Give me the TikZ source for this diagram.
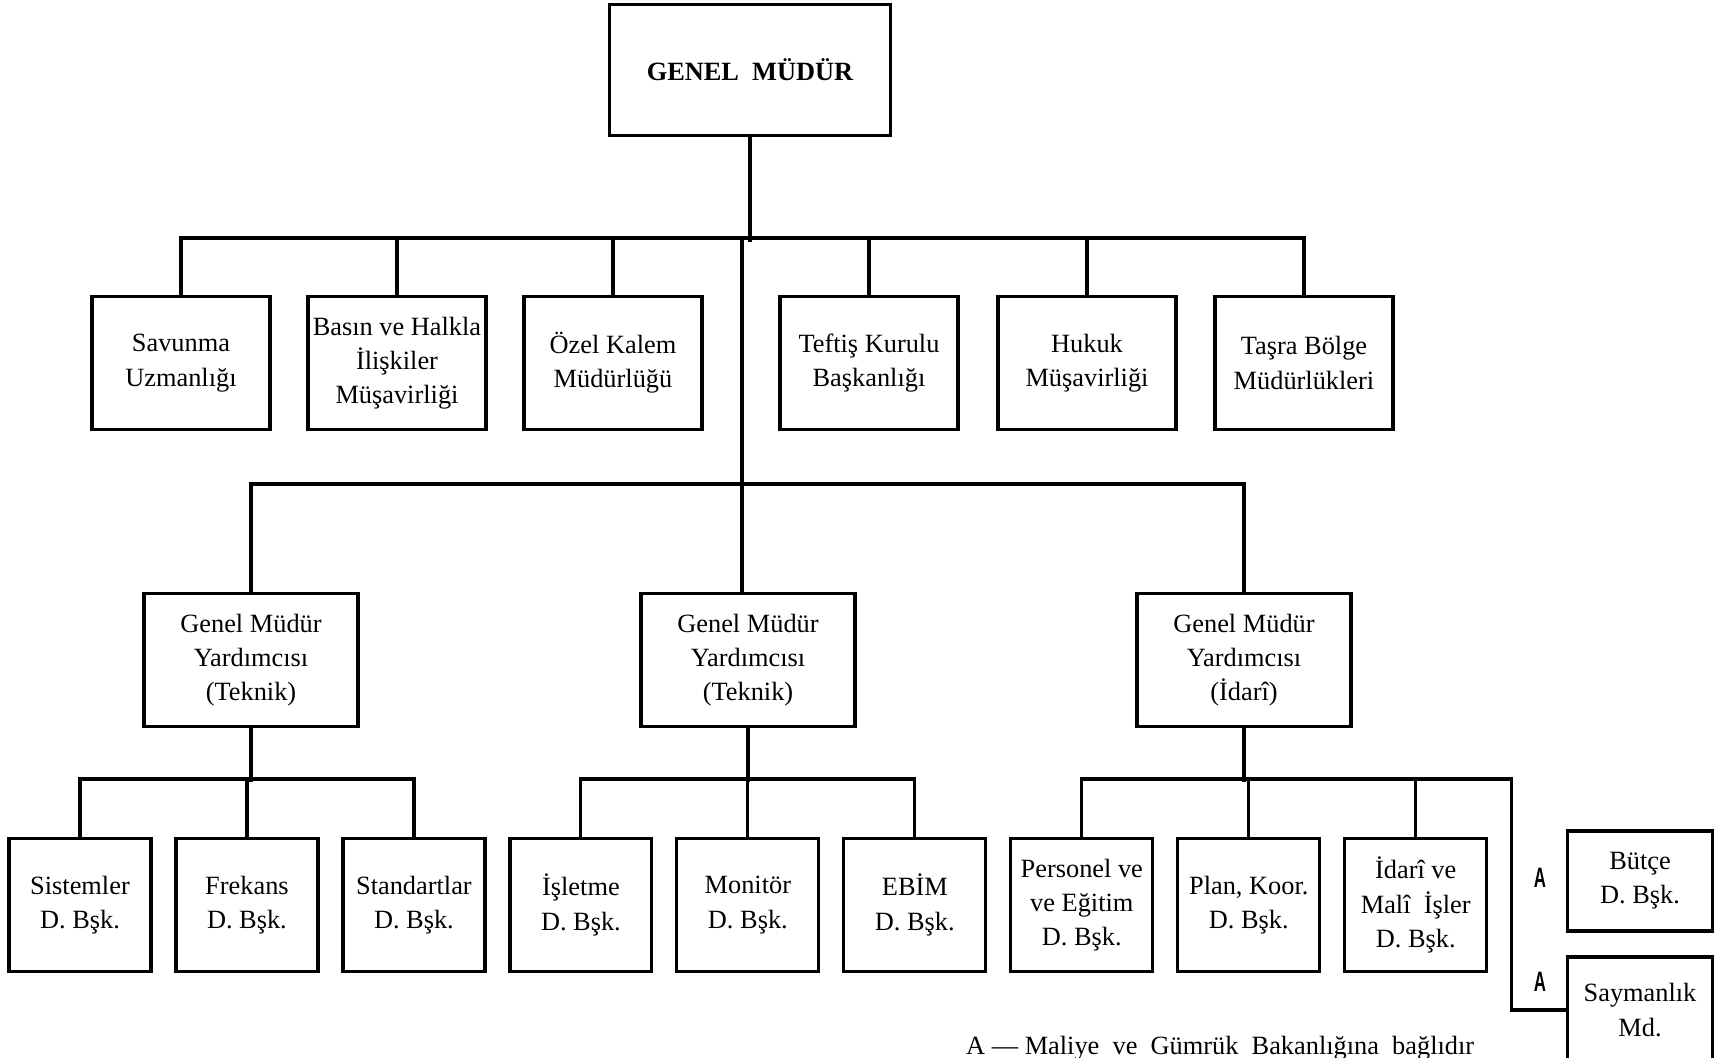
\documentclass[tikz,border=0pt]{standalone}
\usepackage{fontspec}
\setmainfont{Liberation Serif}
\setsansfont{Liberation Sans}
\usepackage{tikz}
\usetikzlibrary{positioning}

\begin{document}
\begin{tikzpicture}[x=0.02cm, y=-0.02cm]
                        % coordinates are pixels of the scan, y grows downwards
                        \tikzstyle{every node}=[font=\fontsize{15}{19.5}\selectfont, align=center]
                        \tikzstyle{unit}=[draw=black, line width=1.8pt, inner sep=1pt, minimum height=2.66cm]
                        \tikzstyle{office}=[unit, minimum width=3.56cm]
                        \tikzstyle{deputy}=[unit, minimum width=4.28cm]
                        \tikzstyle{dept}=[unit, minimum width=2.84cm, node distance=3.34cm]
                        \tikzstyle{sidebox}=[unit, minimum width=2.9cm, minimum height=2.0cm]
                        \tikzstyle{link}=[black, line width=1.8pt]
                        \tikzstyle{atag}=[font=\sffamily\bfseries\fontsize{16}{16}\selectfont]
                        \useasboundingbox (0,0) rectangle (1721,1058);

                        \node[unit, minimum width=5.62cm, minimum height=2.62cm, font=\bfseries\fontsize{15}{19.5}\selectfont] (gm) at (750,70) {GENEL\ \ MÜDÜR};

                        % first level
                        \node[office] (sav) at (181,363) {Savunma\\Uzmanlığı};
                        \node[office] (bas) at (397,363) {Basın ve Halkla\\İlişkiler\\Müşavirliği};
                        \node[office] (oze) at (613,363) {Özel Kalem\\Müdürlüğü};
                        \node[office] (tef) at (869,363) {Teftiş Kurulu\\Başkanlığı};
                        \node[office] (huk) at (1087,363) {Hukuk\\Müşavirliği};
                        \node[office] (tas) at (1304,363) {Taşra Bölge\\Müdürlükleri};

                        \draw[link] (gm.south) -- ++(0,105);
                        \draw[link] (sav.north) -- ++(0,-57) -| (tas.north);
                        \draw[link] (bas.north) -- ++(0,-57);
                        \draw[link] (oze.north) -- ++(0,-57);
                        \draw[link] (tef.north) -- ++(0,-57);
                        \draw[link] (huk.north) -- ++(0,-57);

                        % deputies
                        \coordinate (trunk) at (742,240);
                        \node[deputy] (gyt1) at (251,660) {Genel Müdür\\Yardımcısı\\(Teknik)};
                        \node[deputy] (gyt2) at (748,660) {Genel Müdür\\Yardımcısı\\(Teknik)};
                        \node[deputy] (gyi) at (1244,660) {Genel Müdür\\Yardımcısı\\(İdarî)};

                        \draw[link] (trunk) -- (trunk |- gyt2.north);
                        \draw[link] (gyt1.north) -- ++(0,-108) -| (gyi.north);

                        % departments
                        \node[dept] (sis) at (80,905) {Sistemler\\D. Bşk.};
                        \node[dept] (fre) [right of = sis] {Frekans\\D. Bşk.};
                        \node[dept] (sta) [right of = fre] {Standartlar\\D. Bşk.};
                        \node[dept] (isl) [right of = sta] {İşletme\\D. Bşk.};
                        \node[dept] (mon) [right of = isl] {Monitör\\D. Bşk.};
                        \node[dept] (ebi) [right of = mon] {EBİM\\D. Bşk.};
                        \node[dept] (per) [right of = ebi] {Personel ve\\ve Eğitim\\D. Bşk.};
                        \node[dept] (pla) [right of = per] {Plan, Koor.\\D. Bşk.};
                        \node[dept] (ida) [right of = pla] {İdarî ve\\Malî\ \ İşler\\D. Bşk.};

                        \node[sidebox] (but) at (1640,881) {Bütçe\\D. Bşk.};
                        \node[sidebox, minimum height=2.12cm] (say) at (1640,1010) {Saymanlık\\Md.};

                        \draw[link] (gyt1.south) -- ++(0,54);
                        \draw[link] (sis.north) -- ++(0,-58) -| (sta.north);
                        \draw[link] (fre.north) -- ++(0,-58);

                        \draw[link] (gyt2.south) -- ++(0,54);
                        \draw[link] (isl.north) -- ++(0,-58) -| (ebi.north);
                        \draw[link] (mon.north) -- ++(0,-58);

                        \draw[link] (gyi.south) -- ++(0,54);
                        \draw[link] (per.north) -- ++(0,-58) -- ++(430,0) |- (say.west);
                        \draw[link] (pla.north) -- ++(0,-58);
                        \draw[link] (ida.north) -- ++(0,-58);

                        \node[atag] (a1) at (1540,878) {\scalebox{0.6}[1]{A}};
                        \node[atag] (a2) at (1540,982) {\scalebox{0.6}[1]{A}};

                        \node[anchor=base west] (note) at (960,1054) {A --- Maliye\ \ ve\ \ Gümrük\ \ Bakanlığına\ \ bağlıdır};
\end{tikzpicture}
\end{document}
